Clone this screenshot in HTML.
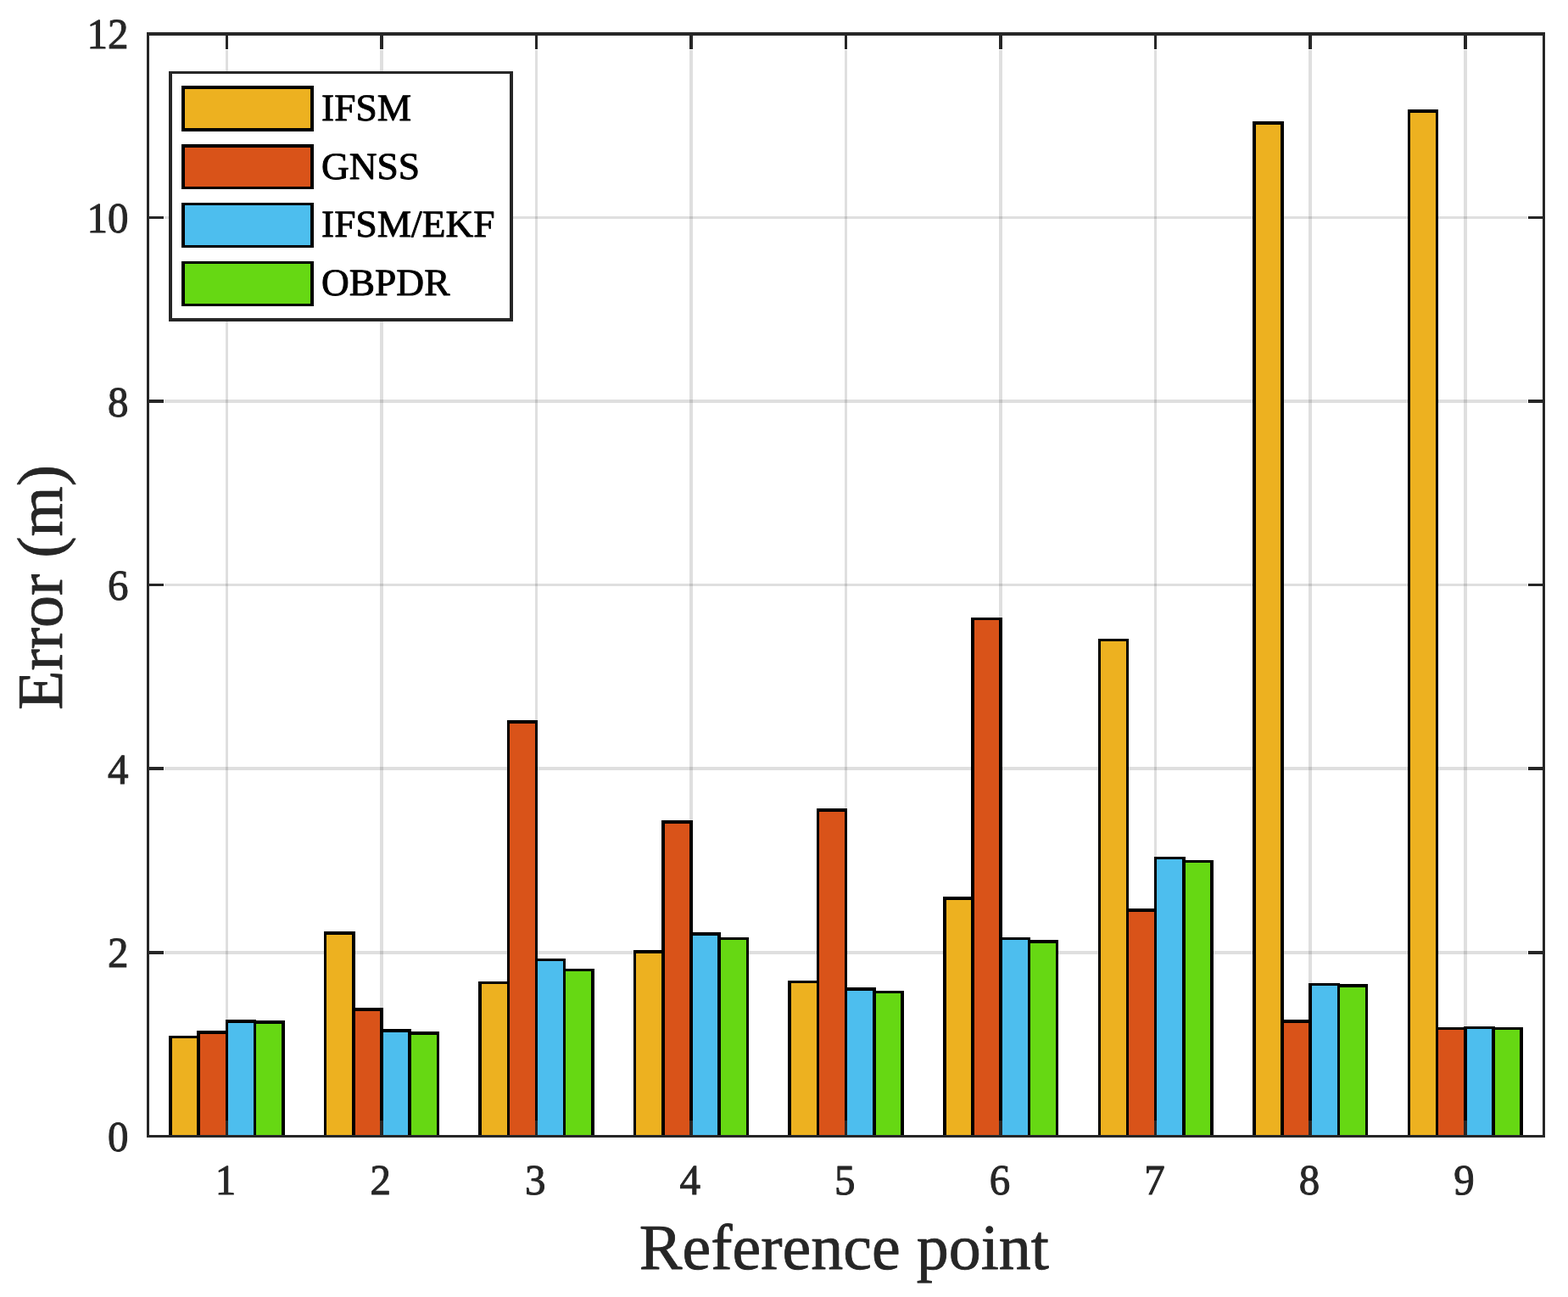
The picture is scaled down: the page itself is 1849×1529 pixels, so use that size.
<!DOCTYPE html>
<html lang="en">
<head>
<meta charset="utf-8">
<title>Error (m) by Reference point</title>
<style>
html,body{margin:0;padding:0;background:#ffffff;}
body{width:1849px;height:1529px;overflow:hidden;font-family:"Liberation Serif", serif;}
svg{display:block;}
</style>
</head>
<body>
<svg role="img" aria-label="Grouped bar chart: Error (m) versus Reference point for IFSM, GNSS, IFSM/EKF and OBPDR" width="1849" height="1529" viewBox="0 0 1849 1529" shape-rendering="crispEdges" font-family='"Liberation Serif", serif'>
<rect x="0" y="0" width="1849" height="1529" fill="#ffffff"/>
<g>
<rect x="266" y="59" width="3" height="1261" fill="rgba(38,38,38,0.15)"/>
<rect x="448" y="59" width="4" height="1261" fill="rgba(38,38,38,0.15)"/>
<rect x="631" y="59" width="3" height="1261" fill="rgba(38,38,38,0.15)"/>
<rect x="813" y="59" width="4" height="1261" fill="rgba(38,38,38,0.15)"/>
<rect x="996" y="59" width="3" height="1261" fill="rgba(38,38,38,0.15)"/>
<rect x="1178" y="59" width="4" height="1261" fill="rgba(38,38,38,0.15)"/>
<rect x="1361" y="59" width="3" height="1261" fill="rgba(38,38,38,0.15)"/>
<rect x="1543" y="59" width="4" height="1261" fill="rgba(38,38,38,0.15)"/>
<rect x="1726" y="59" width="4" height="1261" fill="rgba(38,38,38,0.15)"/>
<rect x="194" y="1121" width="1607" height="4" fill="rgba(38,38,38,0.15)"/>
<rect x="194" y="904" width="1607" height="4" fill="rgba(38,38,38,0.15)"/>
<rect x="194" y="688" width="1607" height="3" fill="rgba(38,38,38,0.15)"/>
<rect x="194" y="471" width="1607" height="4" fill="rgba(38,38,38,0.15)"/>
<rect x="194" y="255" width="1607" height="3" fill="rgba(38,38,38,0.15)"/>
</g>
<g>
<rect x="199" y="1221" width="37" height="117" fill="#000000"/>
<rect x="203" y="1224" width="29" height="114" fill="#EDB120"/>
<rect x="382" y="1098" width="37" height="240" fill="#000000"/>
<rect x="385" y="1102" width="30" height="236" fill="#EDB120"/>
<rect x="564" y="1157" width="37" height="181" fill="#000000"/>
<rect x="568" y="1160" width="30" height="178" fill="#EDB120"/>
<rect x="747" y="1120" width="37" height="218" fill="#000000"/>
<rect x="750" y="1124" width="30" height="214" fill="#EDB120"/>
<rect x="929" y="1156" width="37" height="182" fill="#000000"/>
<rect x="933" y="1159" width="30" height="179" fill="#EDB120"/>
<rect x="1112" y="1057" width="37" height="281" fill="#000000"/>
<rect x="1116" y="1061" width="29" height="277" fill="#EDB120"/>
<rect x="1295" y="753" width="36" height="585" fill="#000000"/>
<rect x="1298" y="756" width="30" height="582" fill="#EDB120"/>
<rect x="1477" y="143" width="37" height="1195" fill="#000000"/>
<rect x="1481" y="147" width="29" height="1191" fill="#EDB120"/>
<rect x="1660" y="129" width="36" height="1209" fill="#000000"/>
<rect x="1663" y="133" width="30" height="1205" fill="#EDB120"/>
<rect x="232" y="1215" width="37" height="123" fill="#000000"/>
<rect x="236" y="1219" width="30" height="119" fill="#D95319"/>
<rect x="415" y="1188" width="37" height="150" fill="#000000"/>
<rect x="419" y="1192" width="29" height="146" fill="#D95319"/>
<rect x="598" y="849" width="36" height="489" fill="#000000"/>
<rect x="601" y="853" width="30" height="485" fill="#D95319"/>
<rect x="780" y="967" width="37" height="371" fill="#000000"/>
<rect x="784" y="971" width="29" height="367" fill="#D95319"/>
<rect x="963" y="953" width="36" height="385" fill="#000000"/>
<rect x="966" y="957" width="30" height="381" fill="#D95319"/>
<rect x="1145" y="728" width="37" height="610" fill="#000000"/>
<rect x="1149" y="731" width="29" height="607" fill="#D95319"/>
<rect x="1328" y="1071" width="36" height="267" fill="#000000"/>
<rect x="1331" y="1075" width="30" height="263" fill="#D95319"/>
<rect x="1510" y="1202" width="37" height="136" fill="#000000"/>
<rect x="1514" y="1206" width="29" height="132" fill="#D95319"/>
<rect x="1693" y="1211" width="37" height="127" fill="#000000"/>
<rect x="1696" y="1214" width="30" height="124" fill="#D95319"/>
<rect x="266" y="1202" width="36" height="136" fill="#000000"/>
<rect x="269" y="1206" width="30" height="132" fill="#4DBEEE"/>
<rect x="448" y="1213" width="37" height="125" fill="#000000"/>
<rect x="452" y="1217" width="29" height="121" fill="#4DBEEE"/>
<rect x="631" y="1130" width="36" height="208" fill="#000000"/>
<rect x="634" y="1133" width="30" height="205" fill="#4DBEEE"/>
<rect x="813" y="1099" width="37" height="239" fill="#000000"/>
<rect x="817" y="1103" width="29" height="235" fill="#4DBEEE"/>
<rect x="996" y="1164" width="37" height="174" fill="#000000"/>
<rect x="999" y="1168" width="30" height="170" fill="#4DBEEE"/>
<rect x="1178" y="1105" width="37" height="233" fill="#000000"/>
<rect x="1182" y="1108" width="30" height="230" fill="#4DBEEE"/>
<rect x="1361" y="1010" width="37" height="328" fill="#000000"/>
<rect x="1364" y="1013" width="30" height="325" fill="#4DBEEE"/>
<rect x="1543" y="1159" width="37" height="179" fill="#000000"/>
<rect x="1547" y="1162" width="30" height="176" fill="#4DBEEE"/>
<rect x="1726" y="1210" width="37" height="128" fill="#000000"/>
<rect x="1730" y="1213" width="29" height="125" fill="#4DBEEE"/>
<rect x="299" y="1203" width="37" height="135" fill="#000000"/>
<rect x="302" y="1207" width="30" height="131" fill="#66D813"/>
<rect x="481" y="1216" width="37" height="122" fill="#000000"/>
<rect x="485" y="1220" width="30" height="118" fill="#66D813"/>
<rect x="664" y="1142" width="37" height="196" fill="#000000"/>
<rect x="667" y="1145" width="30" height="193" fill="#66D813"/>
<rect x="846" y="1105" width="37" height="233" fill="#000000"/>
<rect x="850" y="1108" width="30" height="230" fill="#66D813"/>
<rect x="1029" y="1168" width="37" height="170" fill="#000000"/>
<rect x="1033" y="1171" width="29" height="167" fill="#66D813"/>
<rect x="1212" y="1108" width="36" height="230" fill="#000000"/>
<rect x="1215" y="1112" width="30" height="226" fill="#66D813"/>
<rect x="1394" y="1014" width="37" height="324" fill="#000000"/>
<rect x="1398" y="1017" width="29" height="321" fill="#66D813"/>
<rect x="1577" y="1160" width="36" height="178" fill="#000000"/>
<rect x="1580" y="1164" width="30" height="174" fill="#66D813"/>
<rect x="1759" y="1211" width="37" height="127" fill="#000000"/>
<rect x="1763" y="1214" width="29" height="124" fill="#66D813"/>
</g>
<g>
<rect x="266" y="1321" width="3" height="18" fill="#262626"/>
<rect x="266" y="38" width="3" height="20" fill="#262626"/>
<rect x="448" y="1321" width="4" height="18" fill="#262626"/>
<rect x="448" y="38" width="4" height="20" fill="#262626"/>
<rect x="631" y="1321" width="3" height="18" fill="#262626"/>
<rect x="631" y="38" width="3" height="20" fill="#262626"/>
<rect x="813" y="1321" width="4" height="18" fill="#262626"/>
<rect x="813" y="38" width="4" height="20" fill="#262626"/>
<rect x="996" y="1321" width="3" height="18" fill="#262626"/>
<rect x="996" y="38" width="3" height="20" fill="#262626"/>
<rect x="1178" y="1321" width="4" height="18" fill="#262626"/>
<rect x="1178" y="38" width="4" height="20" fill="#262626"/>
<rect x="1361" y="1321" width="3" height="18" fill="#262626"/>
<rect x="1361" y="38" width="3" height="20" fill="#262626"/>
<rect x="1543" y="1321" width="4" height="18" fill="#262626"/>
<rect x="1543" y="38" width="4" height="20" fill="#262626"/>
<rect x="1726" y="1321" width="4" height="18" fill="#262626"/>
<rect x="1726" y="38" width="4" height="20" fill="#262626"/>
<rect x="173" y="1121" width="20" height="4" fill="#262626"/>
<rect x="1802" y="1121" width="20" height="4" fill="#262626"/>
<rect x="173" y="904" width="20" height="4" fill="#262626"/>
<rect x="1802" y="904" width="20" height="4" fill="#262626"/>
<rect x="173" y="688" width="20" height="3" fill="#262626"/>
<rect x="1802" y="688" width="20" height="3" fill="#262626"/>
<rect x="173" y="471" width="20" height="4" fill="#262626"/>
<rect x="1802" y="471" width="20" height="4" fill="#262626"/>
<rect x="173" y="255" width="20" height="3" fill="#262626"/>
<rect x="1802" y="255" width="20" height="3" fill="#262626"/>
<rect x="173" y="38" width="3" height="1303" fill="#262626"/>
<rect x="1819" y="38" width="3" height="1303" fill="#262626"/>
<rect x="173" y="38" width="1649" height="4" fill="#262626"/>
<rect x="173" y="1338" width="1649" height="3" fill="#262626"/>
</g>
<g shape-rendering="auto" text-rendering="geometricPrecision">
<text transform="translate(266.1,1407.7) scale(0.97,1)" font-size="50.5" text-anchor="middle" fill="#262626" stroke="#262626" stroke-width="1" stroke-linejoin="round">1</text>
<text transform="translate(448.7,1407.7) scale(0.97,1)" font-size="50.5" text-anchor="middle" fill="#262626" stroke="#262626" stroke-width="1" stroke-linejoin="round">2</text>
<text transform="translate(631.2,1407.7) scale(0.97,1)" font-size="50.5" text-anchor="middle" fill="#262626" stroke="#262626" stroke-width="1" stroke-linejoin="round">3</text>
<text transform="translate(813.7,1407.7) scale(0.97,1)" font-size="50.5" text-anchor="middle" fill="#262626" stroke="#262626" stroke-width="1" stroke-linejoin="round">4</text>
<text transform="translate(996.3,1407.7) scale(0.97,1)" font-size="50.5" text-anchor="middle" fill="#262626" stroke="#262626" stroke-width="1" stroke-linejoin="round">5</text>
<text transform="translate(1178.9,1407.7) scale(0.97,1)" font-size="50.5" text-anchor="middle" fill="#262626" stroke="#262626" stroke-width="1" stroke-linejoin="round">6</text>
<text transform="translate(1361.4,1407.7) scale(0.97,1)" font-size="50.5" text-anchor="middle" fill="#262626" stroke="#262626" stroke-width="1" stroke-linejoin="round">7</text>
<text transform="translate(1543.9,1407.7) scale(0.97,1)" font-size="50.5" text-anchor="middle" fill="#262626" stroke="#262626" stroke-width="1" stroke-linejoin="round">8</text>
<text transform="translate(1726.5,1407.7) scale(0.97,1)" font-size="50.5" text-anchor="middle" fill="#262626" stroke="#262626" stroke-width="1" stroke-linejoin="round">9</text>
<text transform="translate(151.5,1356.95) scale(0.97,1)" font-size="50.5" text-anchor="end" fill="#262626" stroke="#262626" stroke-width="1" stroke-linejoin="round">0</text>
<text transform="translate(151.5,1140.37) scale(0.97,1)" font-size="50.5" text-anchor="end" fill="#262626" stroke="#262626" stroke-width="1" stroke-linejoin="round">2</text>
<text transform="translate(151.5,923.783) scale(0.97,1)" font-size="50.5" text-anchor="end" fill="#262626" stroke="#262626" stroke-width="1" stroke-linejoin="round">4</text>
<text transform="translate(151.5,707.2) scale(0.97,1)" font-size="50.5" text-anchor="end" fill="#262626" stroke="#262626" stroke-width="1" stroke-linejoin="round">6</text>
<text transform="translate(151.5,490.617) scale(0.97,1)" font-size="50.5" text-anchor="end" fill="#262626" stroke="#262626" stroke-width="1" stroke-linejoin="round">8</text>
<text transform="translate(151.5,274.033) scale(0.97,1)" font-size="50.5" text-anchor="end" fill="#262626" stroke="#262626" stroke-width="1" stroke-linejoin="round">10</text>
<text transform="translate(151.5,57.45) scale(0.97,1)" font-size="50.5" text-anchor="end" fill="#262626" stroke="#262626" stroke-width="1" stroke-linejoin="round">12</text>
<text transform="translate(995.3,1495.5)" font-size="76" text-anchor="middle" fill="#262626" stroke="#262626" stroke-width="0.8" stroke-linejoin="round">Reference point</text>
<text transform="translate(73,692.5) rotate(-90)" font-size="76" text-anchor="middle" fill="#262626" stroke="#262626" stroke-width="0.8" stroke-linejoin="round">Error (m)</text>
</g>
<g>
<rect x="199" y="84" width="406" height="295" fill="#262626"/>
<rect x="203" y="87" width="398" height="288" fill="#ffffff"/>
<rect x="214" y="101" width="156" height="54" fill="#000000"/>
<rect x="218" y="105" width="148" height="46" fill="#EDB120"/>
<rect x="214" y="170" width="156" height="53" fill="#000000"/>
<rect x="218" y="174" width="148" height="46" fill="#D95319"/>
<rect x="214" y="239" width="156" height="53" fill="#000000"/>
<rect x="218" y="242" width="148" height="47" fill="#4DBEEE"/>
<rect x="214" y="308" width="156" height="53" fill="#000000"/>
<rect x="218" y="311" width="148" height="47" fill="#66D813"/>
</g>
<g shape-rendering="auto" text-rendering="geometricPrecision">
<text transform="translate(379,142) scale(1.014,1)" font-size="44.8" fill="#000000" stroke="#000000" stroke-width="0.9" stroke-linejoin="round">IFSM</text>
<text transform="translate(379,210.6) scale(1.014,1)" font-size="44.8" fill="#000000" stroke="#000000" stroke-width="0.9" stroke-linejoin="round">GNSS</text>
<text transform="translate(379,279.2) scale(1.014,1)" font-size="44.8" fill="#000000" stroke="#000000" stroke-width="0.9" stroke-linejoin="round">IFSM/EKF</text>
<text transform="translate(379,347.8) scale(1.014,1)" font-size="44.8" fill="#000000" stroke="#000000" stroke-width="0.9" stroke-linejoin="round">OBPDR</text>
</g>
</svg>
</body>
</html>
